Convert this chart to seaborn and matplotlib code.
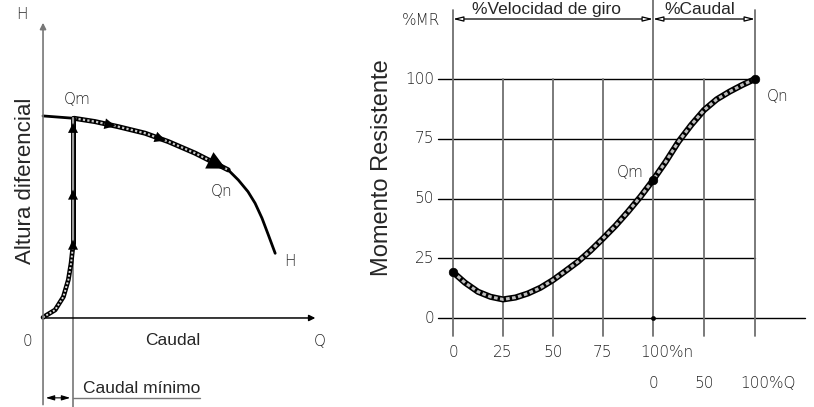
# pump curve diagram: head vs flow (left) and resisting torque vs speed / flow (right)

import matplotlib
matplotlib.use("Agg")
import matplotlib.pyplot as plt
import seaborn as sns

sns.set_style("white")
plt.rcParams["font.family"] = ["DejaVu Sans"]

# left panel data (Q and H in % of the drawn axes)
head_q = [0, 11.3, 18.9, 27.3, 37.1, 45.5, 55.3, 67.3, 71.0, 74.5, 77.1, 79.6, 81.9, 84.4]
head_h = [67.8, 67.0, 65.9, 64.2, 62.0, 59.2, 55.3, 49.7, 46.3, 42.4, 38.5, 33.5, 27.9, 21.7]
start_q = [0, 1.9, 4.4, 7.4, 9.2, 10.2, 11.0]
start_h = [0.2, 1.3, 2.7, 7.1, 12.8, 18.4, 25.1]
q_min = 10.9
rise_arrows_h = [27.2, 44.0, 66.4]
curve_arrow_idx = [3, 5, 7]

# right panel data
speed_pct = [0, 6, 12.5, 18.75, 25, 31.25, 37.5, 43.75, 50, 56.25, 62.5, 68.75, 75, 81.25, 87.5, 93.75, 100]
mr_speed = [19.2, 14.8, 11.0, 8.9, 7.8, 8.6, 10.3, 12.7, 15.9, 19.7, 23.6, 28.2, 33.3, 38.6, 44.5, 50.8, 57.7]
flow_pct = [0, 12.5, 25, 37.5, 50, 62.5, 75, 87.5, 100]
mr_flow = [57.7, 65.4, 73.8, 80.8, 87.0, 91.5, 94.7, 97.5, 100]
mr_ticks = [0, 25, 50, 75, 100]
speed_ticks = [0, 25, 50, 75]
flow_ticks = [0, 50]
flow_scale = 0.51  # flow % drawn after 100 % speed

tech = dict(fontsize=11, fontweight="light")

fig = plt.figure(figsize=(8.14, 4.07), dpi=100)

# ---------------- left panel ----------------
axl = fig.add_axes([0, 0, 380 / 814, 1])
axl.set_xlim(-15.64, 122.5)
axl.set_ylim(-29.87, 106.7)
axl.axis("off")

# axes with arrows
axl.annotate("", xy=(0, 100), xytext=(0, -30),
             arrowprops=dict(arrowstyle="-|>", color="#777777", lw=1.2, mutation_scale=9))
axl.annotate("", xy=(100, 0), xytext=(0, 0),
             arrowprops=dict(arrowstyle="-|>", color="black", lw=1.1, mutation_scale=9))
axl.plot([q_min, q_min], [head_h[1], -30], color="#777777", lw=1.2)

# head curve
sns.lineplot(x=head_q, y=head_h, ax=axl, color="black", lw=2, sort=False, estimator=None)
mid = slice(1, 8)
sns.lineplot(x=head_q[mid], y=head_h[mid], ax=axl, color="black", lw=3.6, sort=False, estimator=None)
sns.lineplot(x=head_q[mid], y=head_h[mid], ax=axl, color="#c8c8c8", lw=1.6,
             linestyle=(0, (1, 1)), sort=False, estimator=None)
for k, i in enumerate(curve_arrow_idx):
    ms = 22 if k == 2 else 13
    axl.annotate("", xy=(head_q[i], head_h[i]), xytext=(head_q[i - 1], head_h[i - 1]),
                 arrowprops=dict(arrowstyle="-|>,head_length=0.6,head_width=0.3",
                                 color="black", lw=0, mutation_scale=ms))

# start-up curve
sns.lineplot(x=start_q, y=start_h, ax=axl, color="black", lw=3.4, sort=False, estimator=None)
sns.lineplot(x=start_q, y=start_h, ax=axl, color="#dddddd", lw=1.4,
             linestyle=(0, (1, 1)), sort=False, estimator=None)

# rise at minimum flow
axl.plot([q_min, q_min], [start_h[-1], head_h[1]], color="black", lw=3.6)
axl.plot([q_min, q_min], [start_h[-1], head_h[1]], color="#9a9a9a", lw=1.6)
for h in rise_arrows_h:
    axl.annotate("", xy=(q_min, h), xytext=(q_min, h - 4),
                 arrowprops=dict(arrowstyle="-|>,head_length=0.6,head_width=0.3",
                                 color="black", lw=0, mutation_scale=12))

# caudal minimo dimension
axl.plot([q_min, 57], [-26.8, -26.8], color="#777777", lw=1)
axl.annotate("", xy=(0, -26.8), xytext=(q_min, -26.8),
             arrowprops=dict(arrowstyle="<|-|>,head_length=0.5,head_width=0.15",
                             color="black", lw=0.8, mutation_scale=10))

axl.text(-7.6, 101.7, "H", ha="center", va="center", **tech)
axl.text(-5.5, -8, "0", ha="center", va="center", **tech)
axl.text(100.7, -8, "Q", ha="center", va="center", **tech)
axl.text(12.4, 73.2, "Qm", ha="center", va="center", **tech)
axl.text(65.1, 42.3, "Qn", ha="center", va="center", **tech)
axl.text(89.8, 18.8, "H", ha="center", va="center", **tech)
axl.text(47.3, -7.4, "Caudal", fontsize=12.5, ha="center", va="center", family="Liberation Sans")
axl.text(14.5, -23.5, "Caudal mínimo", fontsize=12.5, ha="left", va="center", family="Liberation Sans")
axl.text(-6.5, 46, "Altura diferencial", fontsize=16, rotation=90, ha="center", va="center",
         family="Liberation Sans")

# ---------------- right panel ----------------
axr = fig.add_axes([380 / 814, 0, 434 / 814, 1])
axr.set_xlim(-36.5, 180.5)
axr.set_ylim(-37.2, 133.05)
axr.axis("off")

flow_pos = [100 + q * flow_scale for q in flow_pct]
end_pos = 100 + 100 * flow_scale

# grid
for v in mr_ticks:
    x_end = 176 if v == 0 else end_pos
    axr.plot([-7.5, x_end], [v, v], color="black", lw=1)
inner = speed_ticks[1:] + [100 + f * flow_scale for f in flow_ticks[1:]]
for x in inner:
    axr.plot([x, x], [-7.5, 100], color="#707070", lw=1.3)
axr.plot([0, 0], [-7.5, 129], color="#707070", lw=1.3)
axr.plot([100, 100], [-7.5, 133], color="#707070", lw=1.3)
axr.plot([end_pos, end_pos], [-7.5, 129], color="#707070", lw=1.3)

# dimension arrows on top
for a, b in [(0, 100), (100, end_pos)]:
    axr.annotate("", xy=(a, 125.1), xytext=(b, 125.1),
                 arrowprops=dict(arrowstyle="<|-|>,head_length=0.6,head_width=0.15",
                                 fc="white", ec="black", lw=0.9, mutation_scale=10,
                                 shrinkA=0, shrinkB=0))

# torque curve
curve_x = speed_pct + flow_pos[1:]
curve_y = mr_speed + mr_flow[1:]
sns.lineplot(x=curve_x, y=curve_y, ax=axr, color="black", lw=4.4, sort=False, estimator=None)
sns.lineplot(x=curve_x, y=curve_y, ax=axr, color="#bdbdbd", lw=2.2,
             linestyle=(0, (1.2, 0.8)), sort=False, estimator=None)
sns.scatterplot(x=[speed_pct[0], speed_pct[-1], flow_pos[-1]],
                y=[mr_speed[0], mr_speed[-1], mr_flow[-1]],
                ax=axr, color="black", s=38, edgecolor="black", zorder=5)
sns.scatterplot(x=[100], y=[0], ax=axr, color="black", s=10, edgecolor="black", zorder=5)

# labels
for v in mr_ticks:
    axr.text(-9.5, v, str(v), ha="right", va="center", **tech)
for v in speed_ticks:
    axr.text(v, -14.6, str(v), ha="center", va="center", **tech)
axr.text(93.5, -14.6, "100%n", ha="left", va="center", **tech)
for f in flow_ticks:
    axr.text(100 + f * flow_scale, -27.2, str(f), ha="center", va="center", **tech)
axr.text(143.5, -27.2, "100%Q", ha="left", va="center", **tech)
axr.text(-16, 124.3, "%MR", ha="center", va="center", **tech)
axr.text(88.5, 61, "Qm", ha="center", va="center", **tech)
axr.text(162.5, 92.5, "Qn", ha="center", va="center", **tech)
axr.text(46.5, 127.4, "%Velocidad de giro", fontsize=12.5, ha="center", va="baseline",
         family="Liberation Sans")
axr.text(123.5, 127.4, "%Caudal", fontsize=12.5, ha="center", va="baseline",
         family="Liberation Sans")
axr.text(-35.5, 63, "Momento Resistente", fontsize=17, rotation=90, ha="center", va="center",
         family="Liberation Sans")

fig.savefig("out.png", dpi=100)
plt.close(fig)
